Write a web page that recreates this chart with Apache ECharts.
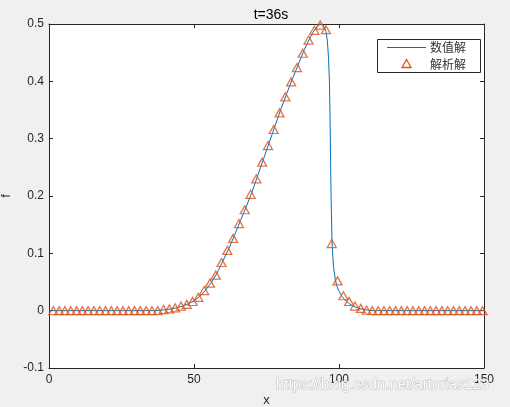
<!DOCTYPE html>
<html><head><meta charset="utf-8">
<script src="https://cdn.jsdelivr.net/npm/echarts@6/dist/echarts.min.js"></script>
<style>html,body{margin:0;padding:0;background:#F0F0F0;}#c{width:510px;height:407px;}</style>
</head><body><div id="c"></div>
<script>
// Numerical solution (line)
var numX = [0, 36, 38, 40, 42, 44, 46, 48, 50, 52, 54, 56, 58, 60, 62, 64, 66, 68, 70, 72, 74, 76, 78, 80, 82, 84, 86, 88, 90, 91, 92, 93, 93.8, 94.5, 95, 95.5, 96, 96.4, 96.7, 96.9, 97.1, 97.3, 97.6, 98.1, 98.7, 99.3, 100, 101, 102, 103.3, 104.5, 106.2, 108, 110, 112, 150];
var numY = [0, 0, 0.0005, 0.0015, 0.003, 0.005, 0.008, 0.012, 0.017, 0.025, 0.036, 0.049, 0.066, 0.087, 0.108, 0.132, 0.157, 0.181, 0.207, 0.236, 0.265, 0.294, 0.323, 0.352, 0.379, 0.405, 0.430, 0.455, 0.476, 0.485, 0.493, 0.498, 0.500, 0.498, 0.494, 0.487, 0.470, 0.440, 0.400, 0.340, 0.260, 0.190, 0.118, 0.077, 0.055, 0.042, 0.034, 0.025, 0.019, 0.013, 0.009, 0.005, 0.0025, 0.001, 0, 0];
// Analytical solution (markers), x = 1.5, 3.5, ..., 149.5
var anaX = [1.5, 3.5, 5.5, 7.5, 9.5, 11.5, 13.5, 15.5, 17.5, 19.5, 21.5, 23.5, 25.5, 27.5, 29.5, 31.5, 33.5, 35.5, 37.5, 39.5, 41.5, 43.5, 45.5, 47.5, 49.5, 51.5, 53.5, 55.5, 57.5, 59.5, 61.5, 63.5, 65.5, 67.5, 69.5, 71.5, 73.5, 75.5, 77.5, 79.5, 81.5, 83.5, 85.5, 87.5, 89.5, 91.5, 93.5, 95.5, 97.5, 99.5, 101.5, 103.5, 105.5, 107.5, 109.5, 111.5, 113.5, 115.5, 117.5, 119.5, 121.5, 123.5, 125.5, 127.5, 129.5, 131.5, 133.5, 135.5, 137.5, 139.5, 141.5, 143.5, 145.5, 147.5, 149.5];
var anaY = [0, 0, 0, 0, 0, 0, 0, 0, 0, 0, 0, 0, 0, 0, 0, 0, 0, 0, 0, 0.002, 0.003, 0.005, 0.008, 0.011, 0.016, 0.023, 0.035, 0.048, 0.062, 0.084, 0.105, 0.126, 0.152, 0.176, 0.203, 0.230, 0.259, 0.288, 0.316, 0.345, 0.373, 0.399, 0.424, 0.449, 0.472, 0.489, 0.498, 0.490, 0.117, 0.052, 0.026, 0.016, 0.008, 0.004, 0.001, 0, 0, 0, 0, 0, 0, 0, 0, 0, 0, 0, 0, 0, 0, 0, 0, 0, 0, 0, 0];
var xTicks = [0, 50, 100, 150];
var yTicks = [-0.1, 0, 0.1, 0.2, 0.3, 0.4, 0.5];
var seriesNames = ['数值解', '解析解'];
var titleText = 't=36s';

var AX = '#262626';
var FONT = 'Liberation Sans, Arial, sans-serif';
var CJK = 'Noto Sans CJK SC, sans-serif';
function zip(a, b) { return a.map(function (v, i) { return [v, b[i]]; }); }
function fmtY(v) { return String(Math.round(v * 10) / 10); }

var chart = echarts.init(document.getElementById('c'), null, {renderer: 'canvas'});
var axBase = {
  axisLine: {show: true, onZero: false, lineStyle: {color: AX, width: 1}},
  axisTick: {show: true, inside: true, length: 4, lineStyle: {color: AX}},
  splitLine: {show: false}
};
chart.setOption({
  backgroundColor: '#F0F0F0',
  animation: false,
  title: {text: titleText, left: 266, top: 3, textAlign: 'center',
    textStyle: {fontFamily: FONT, fontSize: 14, fontWeight: 'normal', color: '#000'}},
  grid: {left: 49, top: 24, right: 26, bottom: 39, containLabel: false, outerBoundsMode: 'none',
    show: true, backgroundColor: '#fff', borderWidth: 0},
  xAxis: [
    Object.assign({type: 'value', min: xTicks[0], max: xTicks[xTicks.length - 1], interval: 50, position: 'bottom',
      name: 'x', nameLocation: 'middle', nameGap: 26,
      nameTextStyle: {fontFamily: FONT, fontSize: 13, color: AX},
      axisLabel: {fontFamily: FONT, fontSize: 12, color: AX, margin: 6}}, axBase),
    Object.assign({type: 'value', min: xTicks[0], max: xTicks[xTicks.length - 1], interval: 50, position: 'top',
      axisLabel: {show: false}}, axBase)
  ],
  yAxis: [
    Object.assign({type: 'value', min: yTicks[0], max: yTicks[yTicks.length - 1], interval: 0.1, position: 'left',
      name: 'f', nameLocation: 'middle', nameGap: 32, nameRotate: 90,
      nameTextStyle: {fontFamily: FONT, fontSize: 13, color: AX, verticalAlign: 'bottom'},
      axisLabel: {fontFamily: FONT, fontSize: 12, color: AX, margin: 5, formatter: fmtY}}, axBase),
    Object.assign({type: 'value', min: yTicks[0], max: yTicks[yTicks.length - 1], interval: 0.1, position: 'right',
      axisLabel: {show: false}}, axBase)
  ],
  series: [
    {name: seriesNames[0], type: 'line', data: zip(numX, numY), showSymbol: false, symbol: 'none',
      lineStyle: {color: '#0072BD', width: 1}, z: 2},
    {name: seriesNames[1], type: 'scatter', data: zip(anaX, anaY), symbol: 'triangle', symbolSize: [9, 8],
      itemStyle: {color: 'rgba(0,0,0,0)', borderColor: '#D95319', borderWidth: 1.3}, z: 3}
  ],
  graphic: [
    {type: 'rect', shape: {x: 377.5, y: 39.5, width: 103, height: 33}, style: {fill: '#fff', stroke: AX, lineWidth: 1}, z: 10},
    {type: 'line', shape: {x1: 387, y1: 47.5, x2: 426, y2: 47.5}, style: {stroke: '#0072BD', lineWidth: 1}, z: 11},
    {type: 'polygon', shape: {points: [[406.5, 59.5], [411, 67.5], [402, 67.5]]}, style: {fill: 'none', stroke: '#D95319', lineWidth: 1.3}, z: 11},
    {type: 'text', x: 430, y: 47.5, style: {text: seriesNames[0], font: '12px ' + CJK, fill: '#333', textVerticalAlign: 'middle'}, z: 11},
    {type: 'text', x: 430, y: 64, style: {text: seriesNames[1], font: '12px ' + CJK, fill: '#333', textVerticalAlign: 'middle'}, z: 11},
    {type: 'text', x: 276, y: 385, style: {text: 'https://blog.csdn.net/artorias123', font: '15px ' + FONT,
      fill: 'rgba(255,255,255,0.95)', stroke: 'rgba(160,160,160,0.6)', lineWidth: 1, textVerticalAlign: 'middle'}, z: 20}
  ]
});
</script></body></html>
